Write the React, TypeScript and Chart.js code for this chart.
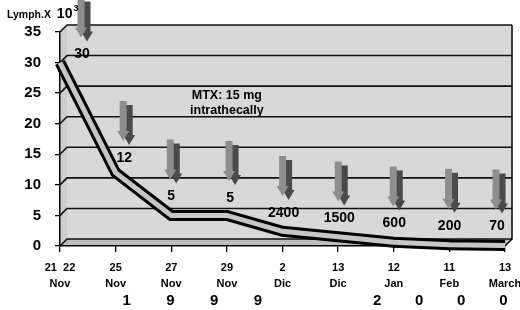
import React, { useEffect, useRef } from 'react';
import { Chart, registerables } from 'chart.js';

Chart.register(...registerables);

// ---- data ----
const days = ['21  22', '25', '27', '29', '2', '13', '12', '11', '13'];
const months = ['Nov', 'Nov', 'Nov', 'Nov', 'Dic', 'Dic', 'Jan', 'Feb', 'March'];
const lymphThousands = [30, 12, 5, 5, 2.4, 1.5, 0.6, 0.2, 0.07];
const countLabels = ['30', '12', '5', '5', '2400', '1500', '600', '200', '70'];
const yMin = 0;
const yMax = 35;
const yStep = 5;
const yearGroups = [
  { digits: ['1', '9', '9', '9'], from: 1.2, to: 3.56 },
  { digits: ['2', '0', '0', '0'], from: 5.7, to: 7.97 },
];
const noteLines = ['MTX: 15 mg', 'intrathecally'];
const noteAt = { x: 3, y: 23.3 };
const axisTitle = 'Lymph.X';
const axisPower = ['10', '3'];

// ---- style ----
const FONT = 'Arial, "Liberation Sans", Helvetica, sans-serif';
const DX = 7;
const DY = 7;

function poly(ctx: CanvasRenderingContext2D, pts: number[][], fill: string) {
  ctx.beginPath();
  ctx.moveTo(pts[0][0], pts[0][1]);
  for (let i = 1; i < pts.length; i++) ctx.lineTo(pts[i][0], pts[i][1]);
  ctx.closePath();
  ctx.fillStyle = fill;
  ctx.fill();
}

function arrow(ctx: CanvasRenderingContext2D, cx: number, tipY: number, color: string) {
  const len = 40, shaftW = 7, headW = 12, headL = 10;
  ctx.beginPath();
  ctx.moveTo(cx - shaftW / 2, tipY - len);
  ctx.lineTo(cx + shaftW / 2, tipY - len);
  ctx.lineTo(cx + shaftW / 2, tipY - headL);
  ctx.lineTo(cx + headW / 2, tipY - headL);
  ctx.lineTo(cx, tipY);
  ctx.lineTo(cx - headW / 2, tipY - headL);
  ctx.lineTo(cx - shaftW / 2, tipY - headL);
  ctx.closePath();
  ctx.fillStyle = color;
  ctx.fill();
}

const decorPlugin = {
  id: 'decor',
  beforeDraw(chart: any) {
    const { ctx, chartArea: a, scales } = chart;
    const ys = scales.y;
    const L = a.left, R = a.right, T = a.top, B = a.bottom;
    ctx.save();
    ctx.fillStyle = '#fff';
    ctx.fillRect(0, 0, chart.width, chart.height);
    ctx.fillStyle = '#d8d8d8';
    ctx.fillRect(L + DX, T - DY, R - L, B - T);
    poly(ctx, [[L, T], [L + DX, T - DY], [L + DX, B - DY], [L, B]], '#cdcdcd');
    poly(ctx, [[L, B], [L + DX, B - DY], [R + DX, B - DY], [R, B]], '#bcbcbc');
    ctx.strokeStyle = '#111';
    ctx.lineWidth = 1.6;
    for (let v = yMin + yStep; v <= yMax; v += yStep) {
      const py = ys.getPixelForValue(v);
      ctx.beginPath();
      ctx.moveTo(L, py);
      ctx.lineTo(L + DX, py - DY);
      ctx.lineTo(R + DX, py - DY);
      ctx.stroke();
    }
    ctx.beginPath();
    ctx.moveTo(L, B);
    ctx.lineTo(L + DX, B - DY);
    ctx.lineTo(R + DX, B - DY);
    ctx.lineTo(R + DX, T - DY);
    ctx.moveTo(R, B);
    ctx.lineTo(R + DX, B - DY);
    ctx.stroke();
    ctx.restore();
  },
  afterDatasetsDraw(chart: any) {
    const { ctx, chartArea: a, scales } = chart;
    const xs = scales.x;
    const ys = scales.y;
    const pts = chart.getDatasetMeta(1).data;
    ctx.save();
    ctx.textAlign = 'center';
    ctx.textBaseline = 'middle';
    for (let i = 0; i < pts.length; i++) {
      const p = pts[i];
      const n = pts[i + 1];
      const drop = n ? n.y - p.y : 0;
      const lx = Math.min(p.x + 0.2 * drop, a.right - 8);
      const ly = p.y - 19 + 0.1 * drop;
      const tip = ly - 17;
      arrow(ctx, lx + 5, tip + 4, '#4a4a4a');
      arrow(ctx, lx - 1, tip, '#8e8e8e');
      ctx.fillStyle = '#000';
      ctx.font = `bold 14px ${FONT}`;
      ctx.fillText(countLabels[i], lx, ly);
    }
    // note
    ctx.font = `bold 12.5px ${FONT}`;
    const nx = xs.getPixelForValue(noteAt.x);
    const ny = ys.getPixelForValue(noteAt.y);
    noteLines.forEach((t, k) => ctx.fillText(t, nx, ny + (k - (noteLines.length - 1) / 2) * 15));
    ctx.restore();
  },
  afterDraw(chart: any) {
    const { ctx, scales } = chart;
    const xs = scales.x;
    ctx.save();
    ctx.fillStyle = '#000';
    ctx.textBaseline = 'middle';
    ctx.textAlign = 'center';
    ctx.font = `bold 15px ${FONT}`;
    const step = xs.getPixelForValue(1) - xs.getPixelForValue(0);
    const x0 = xs.getPixelForValue(0);
    yearGroups.forEach((g) => {
      const n = g.digits.length;
      g.digits.forEach((d, k) => {
        const pos = g.from + ((g.to - g.from) * k) / (n - 1);
        ctx.fillText(d, x0 + pos * step, 301);
      });
    });
    // axis title
    ctx.textAlign = 'left';
    ctx.font = `bold 10.5px ${FONT}`;
    ctx.fillText(axisTitle, 7, 15);
    const w = ctx.measureText(axisTitle + ' ').width;
    ctx.font = `bold 14px ${FONT}`;
    ctx.fillText(axisPower[0], 7 + w + 3, 14);
    const w2 = ctx.measureText(axisPower[0]).width;
    ctx.font = `bold 9px ${FONT}`;
    ctx.fillText(axisPower[1], 7 + w + 3 + w2 + 1, 9);
    ctx.restore();
  },
};

export default function App() {
  const ref = useRef<HTMLCanvasElement>(null);
  useEffect(() => {
    document.body.style.margin = '0';
    const labels = days.map((d, i) => [d, months[i]]);
    const chart = new Chart(ref.current as HTMLCanvasElement, {
      type: 'line',
      data: {
        labels,
        datasets: [
          {
            data: lymphThousands,
            borderColor: '#c6c6c6',
            borderWidth: 5,
            pointRadius: 0,
            borderJoinStyle: 'miter',
            tension: 0,
            clip: false,
          } as any,
          {
            data: lymphThousands,
            borderColor: '#000',
            borderWidth: 11,
            pointRadius: 0,
            borderJoinStyle: 'miter',
            tension: 0,
            clip: false,
          } as any,
        ],
      },
      options: {
        animation: false,
        responsive: false,
        events: [],
        layout: { padding: { top: 32, right: 15, left: 0, bottom: 0 } },
        plugins: { legend: { display: false }, tooltip: { enabled: false } },
        scales: {
          x: {
            type: 'category',
            offset: false,
            grid: { display: true, drawOnChartArea: false, drawTicks: true, tickLength: 6, color: '#000', lineWidth: 1.3 },
            border: { display: true, color: '#000', width: 1.5 },
            ticks: {
              color: '#000',
              font: { family: FONT, size: 11, weight: 'bold', lineHeight: 1.45 },
              padding: 8,
              autoSkip: false,
              maxRotation: 0,
              minRotation: 0,
            },
            afterFit: (s: any) => {
              s.height = 64;
              s.paddingLeft = 0;
              s.paddingRight = 0;
            },
          },
          y: {
            min: yMin,
            max: yMax,
            ticks: { stepSize: yStep, color: '#000', font: { family: FONT, size: 15, weight: 'bold' }, padding: 14 },
            grid: { drawOnChartArea: false, tickLength: 5, color: '#000', lineWidth: 1.3 },
            border: { color: '#000', width: 1.5 },
            afterFit: (s: any) => {
              s.width = 60;
              s.paddingTop = 0;
              s.paddingBottom = 0;
            },
          },
        },
      } as any,
      plugins: [decorPlugin],
    });
    return () => chart.destroy();
  }, []);
  return (
    <div style={{ width: 520, height: 310, background: '#fff' }}>
      <canvas ref={ref} width={520} height={310} style={{ display: 'block' }} />
    </div>
  );
}
